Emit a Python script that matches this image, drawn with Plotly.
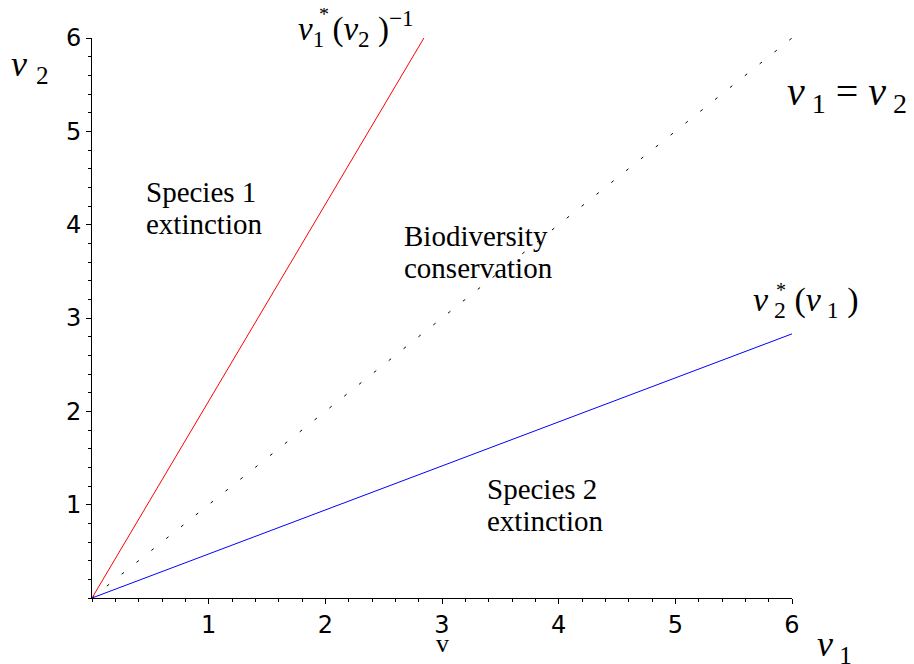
import plotly.graph_objects as go

# Data
diag = [0, 6]
blue_x = [0, 6]
blue_y = [0, 2.83]          # v2*(v1)
red_x = [0, 2.845]          # v1*(v2)^-1
red_y = [0, 6]
tick_vals = [1, 2, 3, 4, 5, 6]
tick_text = ["1", "2", "3", "4", "5", "6"]

fig = go.Figure()
fig.add_trace(go.Scatter(x=diag, y=diag, mode="lines",
                         line=dict(color="black", width=1, dash="3px,16px"),
                         hoverinfo="skip"))
fig.add_trace(go.Scatter(x=red_x, y=red_y, mode="lines",
                         line=dict(color="#ff0000", width=1), hoverinfo="skip"))
fig.add_trace(go.Scatter(x=blue_x, y=blue_y, mode="lines",
                         line=dict(color="#0000ff", width=1), hoverinfo="skip"))

serif = "Liberation Serif, Times New Roman, serif"
sans = "DejaVu Sans, sans-serif"

axis_common = dict(range=[0, 6], showgrid=False, zeroline=False,
                   showline=True, linecolor="black", linewidth=1)

# page body has 8px margin; plot area target: x 92..792, y 38..598 (screen)
L, T, W, H = 84, 30, 700, 560
fig.update_layout(
    width=914, height=664,
    margin=dict(l=L, r=914 - L - W, t=T, b=664 - T - H),
    paper_bgcolor="white", plot_bgcolor="white",
    showlegend=False,
    xaxis=dict(**axis_common, tickmode="array", tickvals=tick_vals, ticktext=tick_text,
               ticks="outside", ticklen=5, tickcolor="black",
               tickfont=dict(family=sans, size=24, color="black"),
               minor=dict(dtick=0.2, tick0=0, ticks="outside", ticklen=3, tickcolor="black", showgrid=False)),
    yaxis=dict(**axis_common, tickmode="array", tickvals=tick_vals, ticktext=tick_text,
               ticks="outside", ticklen=5, tickcolor="black",
               tickfont=dict(family=sans, size=24, color="black"),
               minor=dict(dtick=0.2, tick0=0, ticks="outside", ticklen=3, tickcolor="black", showgrid=False)),
    xaxis2=dict(range=[0, 6], overlaying="x", anchor="y", side="bottom", showgrid=False,
                zeroline=False, showline=False, showticklabels=False,
                tickmode="array", tickvals=tick_vals, ticks="inside", ticklen=5, tickcolor="black",
                minor=dict(dtick=0.2, tick0=0, ticks="inside", ticklen=3, tickcolor="black", showgrid=False)),
    yaxis2=dict(range=[0, 6], overlaying="y", anchor="x", side="left", showgrid=False,
                zeroline=False, showline=False, showticklabels=False,
                tickmode="array", tickvals=tick_vals, ticks="inside", ticklen=5, tickcolor="black",
                minor=dict(dtick=0.2, tick0=0, ticks="inside", ticklen=3, tickcolor="black", showgrid=False)),
)

def ann(text, px, py, size, xanchor="center", yanchor="middle", family=serif):
    # px, py: screen pixel positions in the target picture
    fig.add_annotation(text=text, x=(px - 92) / W, y=(598 - py) / H,
                       xref="paper", yref="paper", showarrow=False,
                       xanchor=xanchor, yanchor=yanchor, align="left",
                       font=dict(family=family, size=size, color="black"))

ann("Species 1", 144, 192, 29, xanchor="left")
ann("extinction", 144, 224, 29, xanchor="left")
ann("Biodiversity", 402, 236, 29, xanchor="left")
ann("conservation", 402, 268, 29, xanchor="left")
ann("Species 2", 485, 489, 29, xanchor="left")
ann("extinction", 485, 521, 29, xanchor="left")

ann("<i>v</i> <sub>2</sub>", 30, 66, 36)
ann("<i>v</i><sub> 1</sub> = <i>v</i><sub> 2</sub>", 847, 94, 40)
ann("<i>v</i><sub>1</sub> (<i>v</i><sub>2</sub> )<sup>−1</sup>", 296, 28, 33, xanchor="left")
ann("*", 324, 14, 20)
ann("<i>v</i><sub> 2</sub> (<i>v</i><sub> 1</sub> )", 751, 302, 34, xanchor="left")
ann("*", 781, 290, 20)
ann("<i>v</i><sub> 1</sub>", 834, 646, 36)
ann("v", 442, 643, 26)

fig.write_html("out.html")
